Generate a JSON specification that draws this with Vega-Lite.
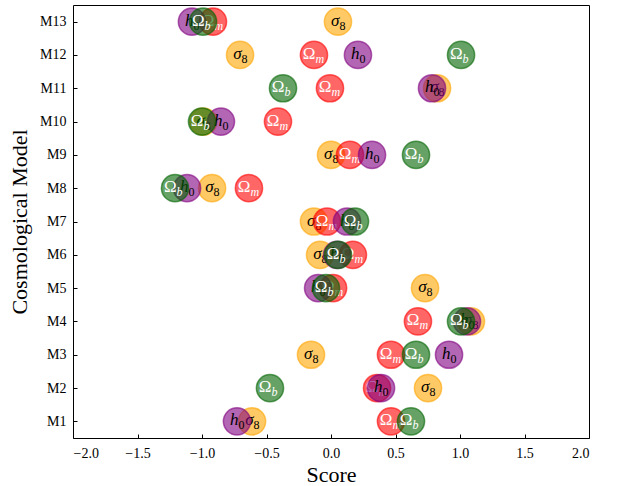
{
  "$schema": "https://vega.github.io/schema/vega-lite/v6.json",
  "autosize": "none",
  "width": 516,
  "height": 433,
  "padding": {"left": 73, "top": 5, "right": 30, "bottom": 48},
  "config": {
    "view": {"stroke": "black", "strokeWidth": 1},
    "font": "Liberation Serif",
    "axis": {"domain": false, "grid": false, "tickColor": "black", "tickSize": -4, "labelColor": "black", "labelFont": "Liberation Serif", "labelFontSize": 14, "titleFont": "Liberation Serif", "titleFontSize": 22, "titleFontWeight": "normal", "titleColor": "black"}
  },
  "data": {"values": [
    {"model": "M13", "param": "h0", "score": -1.078},
    {"model": "M13", "param": "Ob", "score": -0.992},
    {"model": "M13", "param": "Om", "score": -0.915},
    {"model": "M13", "param": "s8", "score": 0.054},
    {"model": "M12", "param": "s8", "score": -0.705},
    {"model": "M12", "param": "Om", "score": -0.132},
    {"model": "M12", "param": "h0", "score": 0.209},
    {"model": "M12", "param": "Ob", "score": 1.008},
    {"model": "M11", "param": "Ob", "score": -0.372},
    {"model": "M11", "param": "Om", "score": -0.008},
    {"model": "M11", "param": "h0", "score": 0.783},
    {"model": "M11", "param": "s8", "score": 0.822},
    {"model": "M10", "param": "Ob", "score": -1.0},
    {"model": "M10", "param": "s8", "score": -0.99},
    {"model": "M10", "param": "h0", "score": -0.853},
    {"model": "M10", "param": "Om", "score": -0.411},
    {"model": "M9", "param": "s8", "score": 0.0},
    {"model": "M9", "param": "Om", "score": 0.147},
    {"model": "M9", "param": "h0", "score": 0.318},
    {"model": "M9", "param": "Ob", "score": 0.659},
    {"model": "M8", "param": "Ob", "score": -1.209},
    {"model": "M8", "param": "h0", "score": -1.116},
    {"model": "M8", "param": "s8", "score": -0.922},
    {"model": "M8", "param": "Om", "score": -0.636},
    {"model": "M7", "param": "s8", "score": -0.132},
    {"model": "M7", "param": "Om", "score": -0.031},
    {"model": "M7", "param": "h0", "score": 0.124},
    {"model": "M7", "param": "Ob", "score": 0.186},
    {"model": "M6", "param": "s8", "score": -0.085},
    {"model": "M6", "param": "h0", "score": 0.047},
    {"model": "M6", "param": "Ob", "score": 0.054},
    {"model": "M6", "param": "Om", "score": 0.17},
    {"model": "M5", "param": "h0", "score": -0.1},
    {"model": "M5", "param": "Ob", "score": -0.039},
    {"model": "M5", "param": "Om", "score": 0.016},
    {"model": "M5", "param": "s8", "score": 0.729},
    {"model": "M4", "param": "Om", "score": 0.674},
    {"model": "M4", "param": "Ob", "score": 1.008},
    {"model": "M4", "param": "h0", "score": 1.054},
    {"model": "M4", "param": "s8", "score": 1.085},
    {"model": "M3", "param": "s8", "score": -0.155},
    {"model": "M3", "param": "Om", "score": 0.465},
    {"model": "M3", "param": "Ob", "score": 0.659},
    {"model": "M3", "param": "h0", "score": 0.915},
    {"model": "M2", "param": "Ob", "score": -0.473},
    {"model": "M2", "param": "Om", "score": 0.357},
    {"model": "M2", "param": "h0", "score": 0.388},
    {"model": "M2", "param": "s8", "score": 0.752},
    {"model": "M1", "param": "h0", "score": -0.729},
    {"model": "M1", "param": "s8", "score": -0.612},
    {"model": "M1", "param": "Om", "score": 0.465},
    {"model": "M1", "param": "Ob", "score": 0.62}
  ]},
  "encoding": {
    "x": {"field": "score", "type": "quantitative", "title": "Score",
      "scale": {"domain": [-2, 2], "nice": false, "zero": false},
      "axis": {"values": [-2, -1.5, -1, -0.5, 0, 0.5, 1, 1.5, 2], "format": ".1f", "labelExpr": "replace(datum.label, '-', '−')", "labelPadding": 12, "titlePadding": 4}},
    "y": {"field": "model", "type": "nominal", "title": "Cosmological Model",
      "scale": {"type": "point", "padding": 0.5, "domain": ["M13","M12","M11","M10","M9","M8","M7","M6","M5","M4","M3","M2","M1"]},
      "axis": {"labelPadding": 11, "titlePadding": 8}}
  },
  "layer": [
    {"transform": [{"filter": "datum.param === 's8'"}], "mark": {"type": "circle", "size": 740, "color": "orange", "fillOpacity": 0.6, "stroke": "orange", "strokeOpacity": 0.6, "strokeWidth": 1.5}},
    {"transform": [{"filter": "datum.param === 's8'"}], "mark": {"type": "text", "text": "σ", "fontStyle": "italic", "fontSize": 17, "align": "right", "baseline": "middle", "dx": 1.5, "dy": -1, "color": "black"}},
    {"transform": [{"filter": "datum.param === 's8'"}], "mark": {"type": "text", "text": "8", "fontSize": 12, "align": "left", "baseline": "middle", "dx": 1.5, "dy": 4, "color": "black"}},
    {"transform": [{"filter": "datum.param === 'Om'"}], "mark": {"type": "circle", "size": 740, "color": "red", "fillOpacity": 0.6, "stroke": "red", "strokeOpacity": 0.6, "strokeWidth": 1.5}},
    {"transform": [{"filter": "datum.param === 'Om'"}], "mark": {"type": "text", "text": "Ω", "fontSize": 17, "align": "right", "baseline": "middle", "dx": 1.5, "dy": -1, "color": "white"}},
    {"transform": [{"filter": "datum.param === 'Om'"}], "mark": {"type": "text", "text": "m", "fontStyle": "italic", "fontSize": 12, "align": "left", "baseline": "middle", "dx": 1.5, "dy": 4, "color": "white"}},
    {"transform": [{"filter": "datum.param === 'h0'"}], "mark": {"type": "circle", "size": 740, "color": "purple", "fillOpacity": 0.6, "stroke": "purple", "strokeOpacity": 0.6, "strokeWidth": 1.5}},
    {"transform": [{"filter": "datum.param === 'h0'"}], "mark": {"type": "text", "text": "h", "fontStyle": "italic", "fontSize": 17, "align": "right", "baseline": "middle", "dx": 1.5, "dy": -1, "color": "black"}},
    {"transform": [{"filter": "datum.param === 'h0'"}], "mark": {"type": "text", "text": "0", "fontSize": 12, "align": "left", "baseline": "middle", "dx": 1.5, "dy": 4, "color": "black"}},
    {"transform": [{"filter": "datum.param === 'Ob'"}], "mark": {"type": "circle", "size": 740, "color": "darkgreen", "fillOpacity": 0.6, "stroke": "darkgreen", "strokeOpacity": 0.6, "strokeWidth": 1.5}},
    {"transform": [{"filter": "datum.param === 'Ob'"}], "mark": {"type": "text", "text": "Ω", "fontSize": 17, "align": "right", "baseline": "middle", "dx": 1.5, "dy": -1, "color": "white"}},
    {"transform": [{"filter": "datum.param === 'Ob'"}], "mark": {"type": "text", "text": "b", "fontStyle": "italic", "fontSize": 12, "align": "left", "baseline": "middle", "dx": 1.5, "dy": 4, "color": "white"}}
  ]
}
